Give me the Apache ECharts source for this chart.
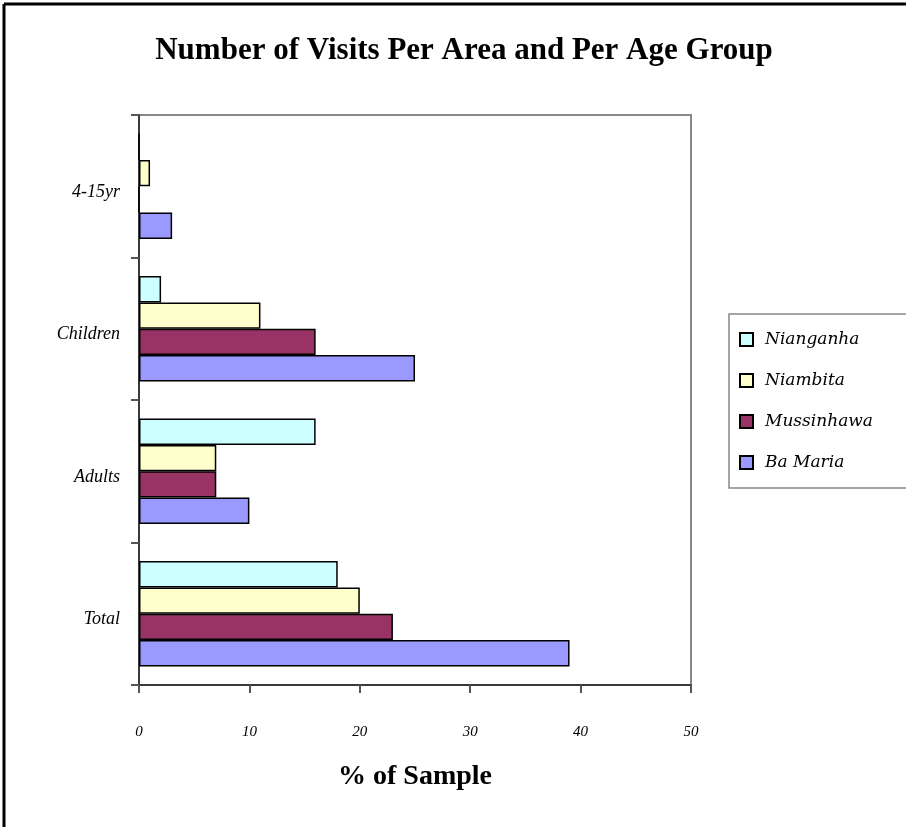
<!DOCTYPE html>
<html>
<head>
<meta charset="utf-8">
<script src="https://cdn.jsdelivr.net/npm/echarts@6/dist/echarts.min.js"></script>
<style>
  html, body { margin: 0; padding: 0; background: #fff; }
  #chart { width: 906px; height: 827px; }
</style>
</head>
<body>
<div id="chart"></div>
<script>
// Age groups, listed bottom to top along the category axis
const ageGroups = ['Total', 'Adults', 'Children', '4-15yr'];

// % of sample per area, in the same order as ageGroups
const nianganha  = [18, 16, 2, 0];
const niambita   = [20, 7, 11, 1];
const mussinhawa = [23, 7, 16, 0];
const baMaria    = [39, 10, 25, 3];

const xTicks = { min: 0, max: 50, interval: 10 };

const serif = 'Liberation Serif';

function barSeries(name, values, color) {
  return {
    name: name,
    type: 'bar',
    data: values,
    barGap: '0%',
    barCategoryGap: '26%',
    itemStyle: { color: color, borderColor: '#000', borderWidth: 1.5 }
  };
}

const chart = echarts.init(document.getElementById('chart'), null, { renderer: 'canvas' });

chart.setOption({
  animation: false,
  backgroundColor: '#fff',
  title: {
    text: 'Number of Visits Per Area and Per Age Group',
    left: 459,
    textAlign: 'center',
    top: 30,
    textStyle: { fontFamily: serif, fontWeight: 'bold', fontSize: 31, color: '#000' }
  },
  legend: {
    orient: 'vertical',
    left: 729,
    top: 314,
    data: ['Nianganha', 'Niambita', 'Mussinhawa', 'Ba Maria'],
    icon: 'rect',
    itemWidth: 13,
    itemHeight: 13,
    itemGap: 24,
    padding: [17, 80, 17, 10],
    borderColor: '#888',
    borderWidth: 1.5,
    textStyle: { fontFamily: 'DejaVu Serif', fontStyle: 'italic', fontSize: 17, color: '#000', padding: [0, 0, 0, 7] }
  },
  grid: {
    left: 139, top: 115, right: 215, bottom: 142,
    show: true, borderColor: '#888', borderWidth: 2
  },
  xAxis: {
    type: 'value',
    min: xTicks.min, max: xTicks.max, interval: xTicks.interval,
    name: '% of Sample',
    nameLocation: 'middle',
    nameGap: 78,
    nameTextStyle: { fontFamily: serif, fontWeight: 'bold', fontSize: 28, color: '#000' },
    axisLine: { show: true, lineStyle: { color: '#3a3a3a', width: 2 } },
    axisTick: { show: true, length: 8, lineStyle: { color: '#555', width: 2 } },
    axisLabel: { margin: 40, fontFamily: serif, fontStyle: 'italic', fontSize: 15, color: '#000' },
    splitLine: { show: false }
  },
  yAxis: {
    type: 'category',
    data: ageGroups,
    axisLine: { show: true, lineStyle: { color: '#3a3a3a', width: 2 } },
    axisTick: { show: true, length: 8, lineStyle: { color: '#555', width: 2 } },
    axisLabel: {
      margin: 19, fontFamily: serif, fontStyle: 'italic', fontSize: 18, color: '#000',
      verticalAlign: 'top', lineHeight: 12
    }
  },
  series: [
    barSeries('Nianganha', nianganha, '#CCFFFF'),
    barSeries('Niambita', niambita, '#FFFFCC'),
    barSeries('Mussinhawa', mussinhawa, '#993366'),
    barSeries('Ba Maria', baMaria, '#9999FF')
  ],
  graphic: [
    { type: 'line', shape: { x1: 4, y1: 4, x2: 906, y2: 4 }, style: { stroke: '#000', lineWidth: 3 } },
    { type: 'line', shape: { x1: 4, y1: 4, x2: 4, y2: 827 }, style: { stroke: '#000', lineWidth: 3 } }
  ]
});
</script>
</body>
</html>
